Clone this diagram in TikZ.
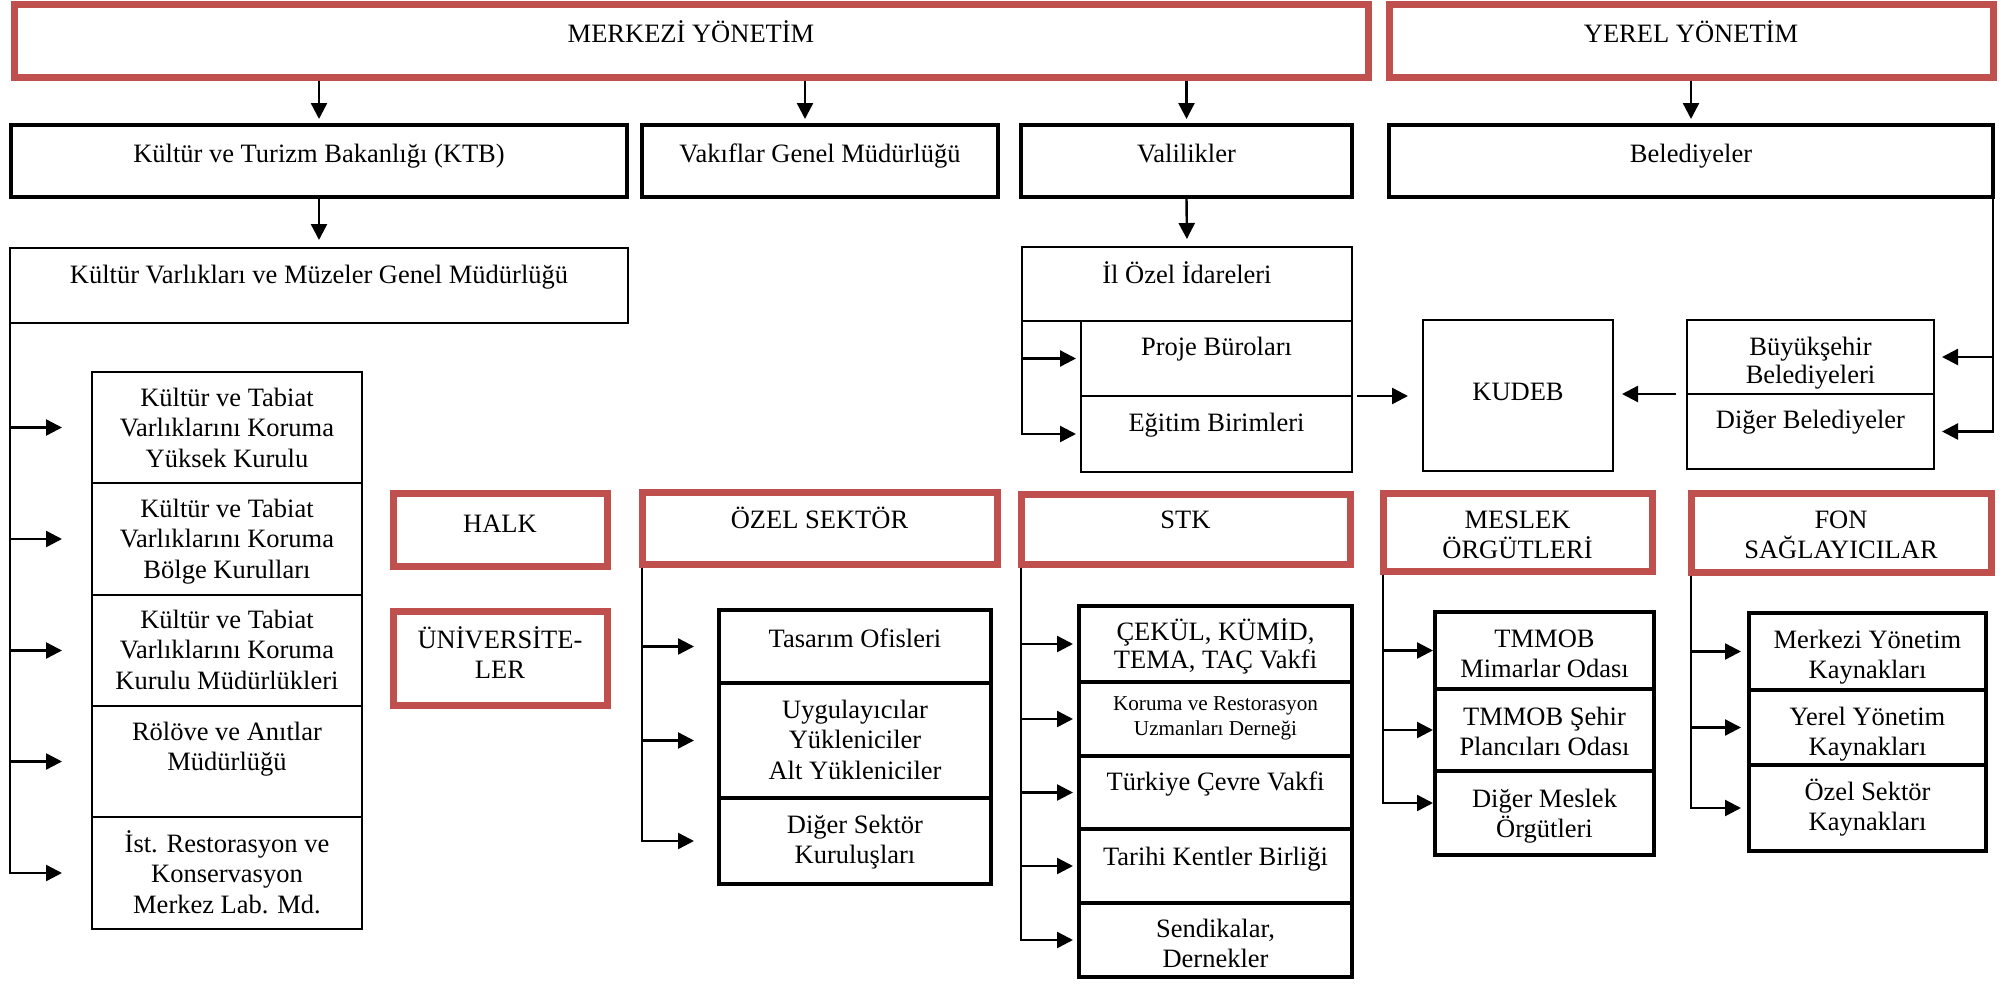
\documentclass[tikz,border=0pt]{standalone}
\usepackage{fontspec}
\setmainfont{Liberation Serif}
\usetikzlibrary{arrows.meta,calc}
\definecolor{redc}{HTML}{C0504D}

% \bx{style}{name}{x1}{y1}{x2}{y2}{first baseline below top}{text}
% coordinates in pixel units; text is top aligned inside the box
\newcommand\bx[8]{%
  \pgfmathsetmacro\bxw{(#5-#3)/2}%
  \pgfmathsetmacro\bxh{(#6-#4)/2}%
  \pgfmathsetmacro\bxb{#7/2}%
  \node[#1, outer sep=0pt, inner sep=0pt, minimum width=\bxw pt, minimum height=\bxh pt]
    (#2) at ({(#3+#5)/2},{(#4+#6)/2})
    {\parbox[c][\bxh pt][t]{\bxw pt}{\centering\rule{0pt}{\bxb pt}#8}};%
}

\tikzset{
  redbox/.style={draw=redc, line width=3.5pt},
  thickbox/.style={draw=black, line width=1.9pt},
  thinbox/.style={draw=black, line width=0.8pt},
  conn/.style={draw=black, line width=1.2pt},
  arr/.style={conn, -{Triangle[length=8pt,width=8pt]}},
  tight/.style={font=\fontsize{13.25}{14}\selectfont},
  small/.style={font=\fontsize{10.6}{12.5}\selectfont},
}

\begin{document}
\begin{tikzpicture}[x=0.5pt, y=-0.5pt, font=\fontsize{13.25}{15.25}\selectfont]
\useasboundingbox (0,0) rectangle (2010,1001);

% governance levels
\bx{redbox}{merk}{14}{4}{1368}{77}{38}{MERKEZİ YÖNETİM}
\bx{redbox}{yer}{1389}{4}{1993}{77}{38}{YEREL YÖNETİM}

\bx{thickbox}{ktb}{11}{125}{627}{197}{37}{Kültür ve Turizm Bakanlığı (KTB)}
\bx{thickbox}{vak}{642}{125}{998}{197}{37}{Vakıflar Genel Müdürlüğü}
\bx{thickbox}{val}{1021}{125}{1352}{197}{37}{Valilikler}
\bx{thickbox}{bel}{1389}{125}{1993}{197}{37}{Belediyeler}

\bx{thinbox}{kvm}{10}{248}{628}{323}{35}{Kültür Varlıkları ve Müzeler Genel Müdürlüğü}
\bx{thinbox}{ilo}{1022}{247}{1352}{321}{36}{İl Özel İdareleri}
\bx{thinbox}{pro}{1081}{321}{1352}{396}{34}{Proje Büroları}
\bx{thinbox}{egi}{1081}{396}{1352}{472}{35}{Eğitim Birimleri}
\bx{thinbox}{kud}{1423}{320}{1613}{471}{80}{KUDEB}
\bx{thinbox,tight}{buy}{1687}{320}{1934}{394}{35}{Büyükşehir\\Belediyeleri}
\bx{thinbox}{dig}{1687}{394}{1934}{469}{34}{Diğer Belediyeler}

% boards under the general directorate
\bx{thinbox}{k1}{92}{372}{362}{483}{34}{Kültür ve Tabiat\\Varlıklarını Koruma\\Yüksek Kurulu}
\bx{thinbox}{k2}{92}{483}{362}{595}{34}{Kültür ve Tabiat\\Varlıklarını Koruma\\Bölge Kurulları}
\bx{thinbox}{k3}{92}{595}{362}{706}{33}{Kültür ve Tabiat\\Varlıklarını Koruma\\Kurulu Müdürlükleri}
\bx{thinbox}{k4}{92}{706}{362}{817}{34}{Rölöve ve Anıtlar\\Müdürlüğü}
\bx{thinbox}{k5}{92}{817}{362}{929}{35}{İst. Restorasyon ve\\Konservasyon\\Merkez Lab. Md.}

% other actors
\bx{redbox}{halk}{393}{493}{607}{566}{39}{HALK}
\bx{redbox}{uni}{393}{611}{607}{705}{37}{ÜNİVERSİTE-\\LER}
\bx{redbox}{oz}{642}{492}{997}{564}{36}{ÖZEL SEKTÖR}
\bx{redbox}{stk}{1021}{494}{1350}{564}{34}{STK}
\bx{redbox}{mes}{1383}{493}{1652}{571}{35}{MESLEK\\ÖRGÜTLERİ}
\bx{redbox}{fon}{1691}{493}{1991}{572}{35}{FON\\SAĞLAYICILAR}

\bx{thickbox}{tas}{719}{610}{991}{683}{37}{Tasarım Ofisleri}
\bx{thickbox}{uyg}{719}{683}{991}{798}{35}{Uygulayıcılar\\Yükleniciler\\Alt Yükleniciler}
\bx{thickbox}{dsk}{719}{798}{991}{884}{35}{Diğer Sektör\\Kuruluşları}

\bx{thickbox,tight}{s1}{1079}{606}{1352}{682}{34}{ÇEKÜL, KÜMİD,\\TEMA, TAÇ Vakfi}
\bx{thickbox,small}{s2}{1079}{682}{1352}{756}{28}{Koruma ve Restorasyon\\Uzmanları Derneği}
\bx{thickbox}{s3}{1079}{756}{1352}{829}{34}{Türkiye Çevre Vakfi}
\bx{thickbox}{s4}{1079}{829}{1352}{903}{36}{Tarihi Kentler Birliği}
\bx{thickbox}{s5}{1079}{903}{1352}{977}{34}{Sendikalar,\\Dernekler}

\bx{thickbox}{m1}{1435}{612}{1654}{689}{35}{TMMOB\\Mimarlar Odası}
\bx{thickbox}{m2}{1435}{689}{1654}{771}{36}{TMMOB Şehir\\Plancıları Odası}
\bx{thickbox}{m3}{1435}{771}{1654}{855}{36}{Diğer Meslek\\Örgütleri}

\bx{thickbox}{f1}{1749}{613}{1986}{690}{35}{Merkezi Yönetim\\Kaynakları}
\bx{thickbox}{f2}{1749}{690}{1986}{765}{35}{Yerel Yönetim\\Kaynakları}
\bx{thickbox}{f3}{1749}{765}{1986}{851}{35}{Özel Sektör\\Kaynakları}

% connectors from the top level
\coordinate (vakin) at ([xshift=-7.5pt]vak.north);
\draw[arr, shorten <=1.75pt, shorten >=3pt] (merk.south -| ktb.north) -- (ktb.north);
\draw[arr, shorten <=1.75pt, shorten >=3pt] (vakin |- merk.south) -- (vakin);
\draw[arr, shorten <=1.75pt, shorten >=3pt] (merk.south -| val.north) -- (val.north);
\draw[arr, shorten <=1.75pt, shorten >=3pt] (yer.south) -- (bel.north);
\draw[arr, shorten <=1pt, shorten >=4pt] (ktb.south) -- (kvm.north);
\draw[arr, shorten <=1pt, shorten >=4pt] (val.south) -- (ilo.north);

% branches
\foreach \r in {k1,k2,k3,k4,k5}
  \draw[arr, shorten >=15pt] (kvm.south west) |- (\r.west);
\foreach \r in {pro,egi}
  \draw[arr, shorten >=2.5pt] (ilo.south west) |- (\r.west);
\draw[arr, shorten <=2.5pt, shorten >=7.5pt] (pro.south east) -- (pro.south east -| kud.west);
\draw[arr, shorten <=5.5pt, shorten >=4.5pt] (buy.south west) -- (buy.south west -| kud.east);
\foreach \r in {buy,dig}
  \draw[arr, shorten <=1pt, shorten >=4pt] (bel.south east) |- (\r.east);

\foreach \r in {tas,uyg,dsk}
  \draw[arr, shorten <=1.75pt, shorten >=12.5pt] (oz.south west) |- (\r.west);
\foreach \r in {s1,s2,s3,s4,s5}
  \draw[arr, shorten <=1.75pt, shorten >=3pt] (stk.south west) |- (\r.west);
\draw[arr, shorten <=1.75pt, shorten >=1pt] (mes.south west) |- (m1.west);
\draw[arr, shorten <=1.75pt, shorten >=1pt] (mes.south west) |- (m2.west);
\draw[arr, shorten <=1.75pt, shorten >=1pt] (mes.south west) |- ([yshift=5pt]m3.west);
\foreach \r in {f1,f2,f3}
  \draw[arr, shorten <=1.75pt, shorten >=4pt] (fon.south west) |- (\r.west);
\end{tikzpicture}
\end{document}
